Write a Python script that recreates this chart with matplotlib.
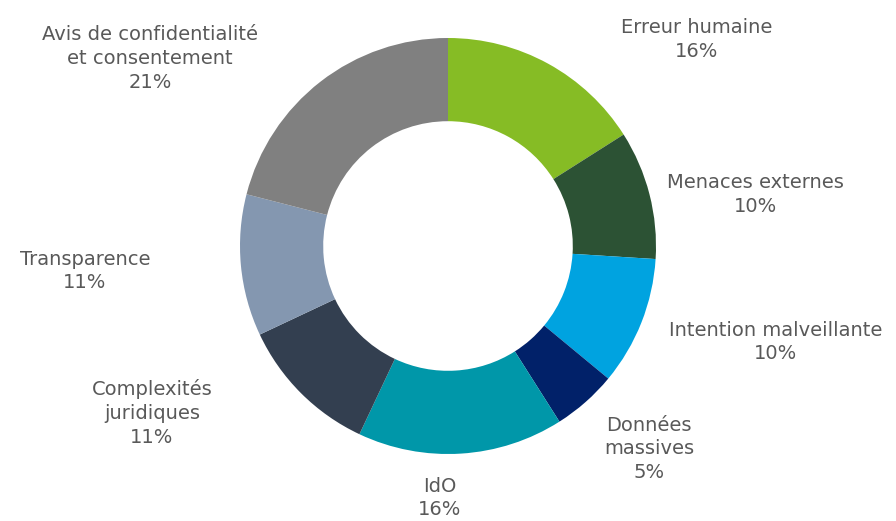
import matplotlib.pyplot as plt

labels = ['Erreur humaine', 'Menaces externes', 'Intention malveillante',
          'Données\nmassives', 'IdO', 'Complexités\njuridiques',
          'Transparence', 'Avis de confidentialité\net consentement']
values = [16, 10, 10, 5, 16, 11, 11, 21]
colors = ['#86BC25', '#2C5234', '#00A3E0', '#012169',
          '#0097A9', '#333F50', '#8497B0', '#808080']

# label centres in pixels from top-left
label_pos = [(697, 39.5), (755, 194.5), (776, 342), (649, 449),
             (440, 498), (152, 413), (85, 271), (150, 58.5)]

W, H = 896, 521
fig = plt.figure(figsize=(W / 100, H / 100), dpi=100)
ax = fig.add_axes([0, 0, 1, 1])

cx, cy, r = 448, H - 246, 208
ax.pie(values, colors=colors, startangle=90, counterclock=False,
       center=(cx, cy), radius=r, frame=True,
       wedgeprops=dict(width=r * 0.4, linewidth=0))
ax.set_xlim(0, W)
ax.set_ylim(0, H)
ax.axis('off')

for lab, v, (x, y) in zip(labels, values, label_pos):
    ax.text(x, H - y, f'{lab}\n{v}%', ha='center', va='center',
            fontsize=14, color='#595959', linespacing=1.32)

fig.savefig('out.png', dpi=100)
